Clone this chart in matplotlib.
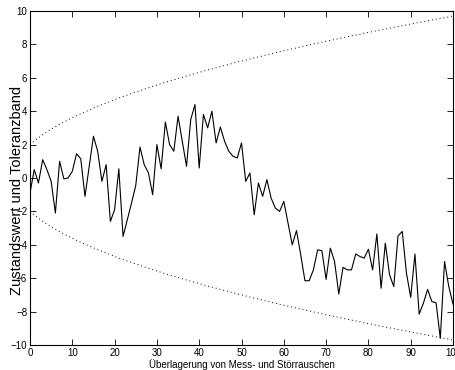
import numpy as np
import matplotlib
matplotlib.use("Agg")
import matplotlib.pyplot as plt

plt.rcParams["font.family"] = ["Liberation Sans", "DejaVu Sans"]

# zeitschritte 0..100
k = np.arange(0, 101)

zustand = [
    -0.9, 0.5, -0.3, 1.1, 0.5, -0.2, -2.1, 1.0, -0.05, 0.0,
    0.4, 1.45, 1.15, -1.1, 0.7, 2.5, 1.6, -0.2, 0.8, -2.6,
    -1.9, 0.55, -3.5, -2.5, -1.5, -0.45, 1.85, 0.8, 0.3, -1.0,
    2.0, 0.55, 3.35, 2.0, 1.6, 3.7, 2.2, 0.7, 3.5, 4.4,
    0.6, 3.8, 3.0, 4.0, 2.1, 3.05, 2.2, 1.6, 1.3, 1.2,
    2.1, -0.2, 0.3, -2.2, -0.3, -1.1, -0.1, -1.2, -1.8, -2.0,
    -1.4, -2.7, -4.0, -3.15, -4.6, -6.15, -6.15, -5.5, -4.3, -4.35,
    -6.07, -4.2, -5.0, -6.95, -5.35, -5.5, -5.5, -4.55, -4.7, -4.8,
    -4.27, -5.5, -3.35, -6.6, -3.9, -5.8, -6.5, -3.47, -3.2, -5.7,
    -7.15, -4.55, -8.15, -7.5, -6.67, -7.4, -7.47, -9.6, -5.0, -6.5,
    -7.55,
]

# toleranzband (obere grenze, untere = negativ)
band = [
    2.00, 2.21, 2.41, 2.59, 2.76, 2.92, 3.07, 3.21, 3.35, 3.48,
    3.61, 3.73, 3.85, 3.96, 4.07, 4.18, 4.29, 4.39, 4.49, 4.59,
    4.69, 4.79, 4.88, 4.97, 5.06, 5.15, 5.23, 5.32, 5.40, 5.49,
    5.57, 5.65, 5.73, 5.81, 5.88, 5.96, 6.03, 6.11, 6.18, 6.25,
    6.32, 6.40, 6.47, 6.53, 6.60, 6.67, 6.74, 6.80, 6.87, 6.94,
    7.00, 7.06, 7.13, 7.19, 7.25, 7.31, 7.38, 7.44, 7.50, 7.56,
    7.62, 7.67, 7.73, 7.79, 7.85, 7.91, 7.96, 8.02, 8.07, 8.13,
    8.19, 8.24, 8.29, 8.35, 8.40, 8.46, 8.51, 8.56, 8.61, 8.67,
    8.72, 8.77, 8.82, 8.87, 8.92, 8.97, 9.02, 9.07, 9.12, 9.17,
    9.22, 9.27, 9.32, 9.36, 9.41, 9.46, 9.51, 9.56, 9.60, 9.65,
    9.70,
]
band = np.array(band)

fig = plt.figure(figsize=(4.55, 3.7), dpi=100)
ax = fig.add_axes([30/455, 1 - 345/370, 423/455, 334/370])

ax.plot(k, zustand, color="black", linewidth=0.8)
ax.plot(k, band, color="black", linestyle=(0, (1, 3)), linewidth=0.7)
ax.plot(k, -band, color="black", linestyle=(0, (1, 3)), linewidth=0.7)

ax.set_xlim(0, 100)
ax.set_ylim(-10, 10)
ax.set_xticks(np.arange(0, 101, 10))
ax.set_yticks(np.arange(-10, 11, 2))
ax.tick_params(direction="in", top=True, right=True, length=4, width=0.6,
               labelsize=7, pad=2)
for s in ax.spines.values():
    s.set_linewidth(0.8)

ax.set_xlabel("Überlagerung von Mess- und Störrauschen", fontsize=7, labelpad=1)
fig.text(17/455, 1 - 190/370, "Zustandswert und Toleranzband", rotation=90,
         fontsize=10.5, ha="center", va="center")

fig.savefig("out.png", dpi=100)
